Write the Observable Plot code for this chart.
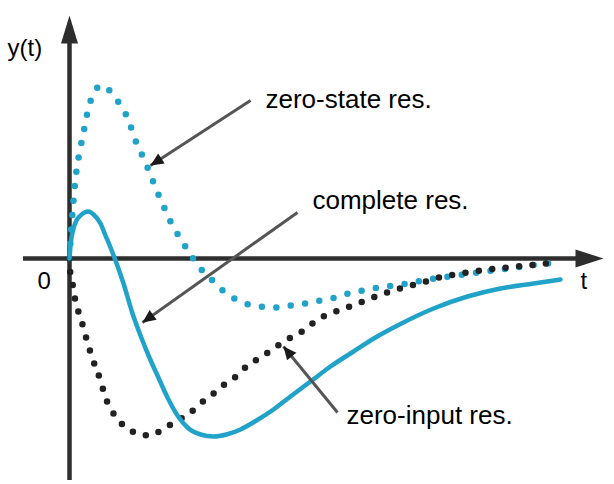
<!DOCTYPE html>
<html>
<head>
<meta charset="utf-8">
<script src="https://cdn.jsdelivr.net/npm/d3@7"></script>
<script src="https://cdn.jsdelivr.net/npm/@observablehq/plot@0.6"></script>
<style>
  html, body { margin: 0; padding: 0; background: #fff; }
  svg { display: block; }
</style>
</head>
<body>
<div id="chart"></div>
<script>
// Units: arbitrary, t right, y up, origin at axes crossing.
const zeroStateT = [0,0.1,0.4,0.7,1.0,1.3,1.6,1.9,2.4,3.1,3.8,4.4,5.3,6.0,6.4,7.0,7.6,8.2,8.8,9.3,9.9,10.6,11.4,12.3,13.1,14.1,15.1,16.3,17.6,19.1,20.6,22.1,23.6,25.1,26.6,27.9,29.4,30.9,32.4,33.9,35.3,36.6,40.1,43.1,46.1,48.8];
const zeroStateY = [0,1.8,5.8,8.8,10.6,12.1,13.6,15.1,16.4,17.3,17.0,16.3,15.0,13.6,12.3,10.9,9.6,8.1,6.6,5.5,4.1,2.8,1.5,0.1,-1.0,-2.0,-3.0,-3.9,-4.5,-4.8,-4.9,-4.7,-4.5,-4.2,-3.9,-3.5,-3.2,-2.9,-2.7,-2.5,-2.2,-2.0,-1.5,-1.1,-0.7,-0.4];

const zeroInputT = [0,0.1,0.3,0.4,0.7,1.1,1.6,2.3,3.1,3.6,4.4,5.4,6.8,8.1,9.4,10.8,12.1,13.1,14.4,15.6,16.8,17.8,19.1,20.4,21.6,23.1,24.3,25.4,26.9,28.3,29.6,30.9,32.4,33.8,35.3,36.6,39.8,42.8,45.8,48.4];
const zeroInputY = [0,-1.7,-2.5,-3.2,-4.7,-5.9,-7.7,-10.0,-12.2,-13.9,-15.5,-16.7,-17.5,-17.7,-17.0,-16.2,-15.4,-14.5,-13.5,-12.5,-11.7,-10.7,-9.9,-9.0,-8.2,-7.4,-6.5,-5.8,-5.2,-4.7,-4.2,-3.7,-3.2,-2.8,-2.4,-2.0,-1.4,-1.0,-0.7,-0.4];

const completeT = [0,0.1,0.4,0.7,1.1,1.5,1.9,2.4,3.1,3.6,4.1,4.6,5.4,6.3,7.1,7.9,8.8,9.8,10.8,11.9,13.1,14.4,15.7,17.1,18.7,20.4,22.1,24.1,26.1,28.4,30.6,32.8,36.4,39.8,43.1,46.4,49.1];
const completeY = [0,1.3,3.0,3.8,4.3,4.6,4.7,4.4,3.5,2.3,1.1,-0.2,-2.5,-5.5,-7.7,-9.7,-11.7,-13.9,-15.7,-17.0,-17.6,-17.8,-17.6,-17.1,-16.2,-15.1,-13.8,-12.3,-10.8,-9.3,-7.9,-6.7,-5.0,-3.8,-3.0,-2.5,-2.1];

// axes extents
const axisX = {from: -4.6, to: 53.4};
const axisY = {from: -22.2, to: 24.3};

// annotation arrows (start -> tip)
const annoLabels = ["zero-state res.", "complete res.", "zero-input res."];
const annoTextX = [19.6, 24.3, 27.7];
const annoTextY = [15.1, 5.0, -16.5];
const arrowX1 = [18.1, 22.8, 26.8];
const arrowY1 = [15.8, 4.6, -15.4];
const arrowX2 = [8.1, 7.3, 21.4];
const arrowY2 = [9.3, -6.4, -8.8];

// axis labels
const axisLabels = ["y(t)", "0", "t"];
const axisLabelX = [-6.2, -3.2, 51.1];
const axisLabelY = [20.3, -3.0, -3.0];

const toRows = (T, Y) => T.map((t, i) => ({t, y: Y[i]}));
const zeroState = toRows(zeroStateT, zeroStateY);
const zeroInput = toRows(zeroInputT, zeroInputY);
const complete = toRows(completeT, completeY);

const blue = "#21a2c9";
const dark = "#222";
const axisColor = "#2e2e2e";
const font = "'Liberation Sans', Arial, sans-serif";

// arrow head symbol: tip at origin, pointing in direction angle (deg, clockwise from up)
function headSymbol(angleDeg, len, halfW) {
  const a = angleDeg * Math.PI / 180;
  const c = Math.cos(a), s = Math.sin(a);
  const rot = (x, y) => [x * c - y * s, x * s + y * c];
  return {
    draw(ctx) {
      const p0 = rot(0, 0), p1 = rot(-halfW, len), p2 = rot(halfW, len);
      ctx.moveTo(p0[0], p0[1]);
      ctx.lineTo(p1[0], p1[1]);
      ctx.lineTo(p2[0], p2[1]);
      ctx.closePath();
    }
  };
}
const angleOf = (dx, dy) => Math.atan2(dx, dy) * 180 / Math.PI;

const arrows = annoLabels.map((label, i) => ({
  x1: arrowX1[i], y1: arrowY1[i], x2: arrowX2[i], y2: arrowY2[i]
}));

const marks = [
  // axes
  Plot.ruleY([0], {x1: axisX.from, x2: axisX.to - 2.5, stroke: axisColor, strokeWidth: 4.5}),
  Plot.ruleX([0], {y1: axisY.from, y2: axisY.to - 2.5, stroke: axisColor, strokeWidth: 4.5}),
  Plot.dot([{x: axisX.to, y: 0}], {x: "x", y: "y", symbol: headSymbol(90, 28, 9), fill: axisColor, stroke: "none"}),
  Plot.dot([{x: 0, y: axisY.to}], {x: "x", y: "y", symbol: headSymbol(0, 28, 8.5), fill: axisColor, stroke: "none"}),
  // curves
  Plot.line(zeroState, {x: "t", y: "y", curve: "monotone-x", stroke: blue, strokeWidth: 6.5, strokeDasharray: "0 14.5", strokeLinecap: "round"}),
  Plot.line(zeroInput, {x: "t", y: "y", curve: "monotone-x", stroke: dark, strokeWidth: 6.5, strokeDasharray: "0 13.5", strokeLinecap: "round"}),
  Plot.line(complete, {x: "t", y: "y", curve: "monotone-x", stroke: blue, strokeWidth: 4.5}),
  // annotation arrows
  Plot.link(arrows, {x1: "x1", y1: "y1", x2: "x2", y2: "y2", stroke: "#555", strokeWidth: 3}),
  ...arrows.map(a => Plot.dot([a], {x: "x2", y: "y2",
    symbol: headSymbol(angleOf(a.x2 - a.x1, a.y2 - a.y1), 13, 6), fill: "#1a1a1a", stroke: "none"})),
  // labels
  Plot.text(annoLabels.map((l, i) => ({l, x: annoTextX[i], y: annoTextY[i]})),
    {x: "x", y: "y", text: "l", textAnchor: "start", lineAnchor: "bottom", fontSize: 26, fontFamily: font, fill: "#000"}),
  Plot.text(axisLabels.map((l, i) => ({l, x: axisLabelX[i], y: axisLabelY[i]})),
    {x: "x", y: "y", text: "l", textAnchor: "start", lineAnchor: "bottom", fontSize: 24, fontFamily: font, fill: "#000"})
];

const chart = Plot.plot({
  width: 614,
  height: 484,
  margin: 0,
  style: {background: "#fff", fontFamily: font},
  x: {domain: [-6.9, 54.5], axis: null},
  y: {domain: [-22.6, 25.8], axis: null},
  marks
});
document.getElementById("chart").appendChild(chart);
</script>
</body>
</html>
